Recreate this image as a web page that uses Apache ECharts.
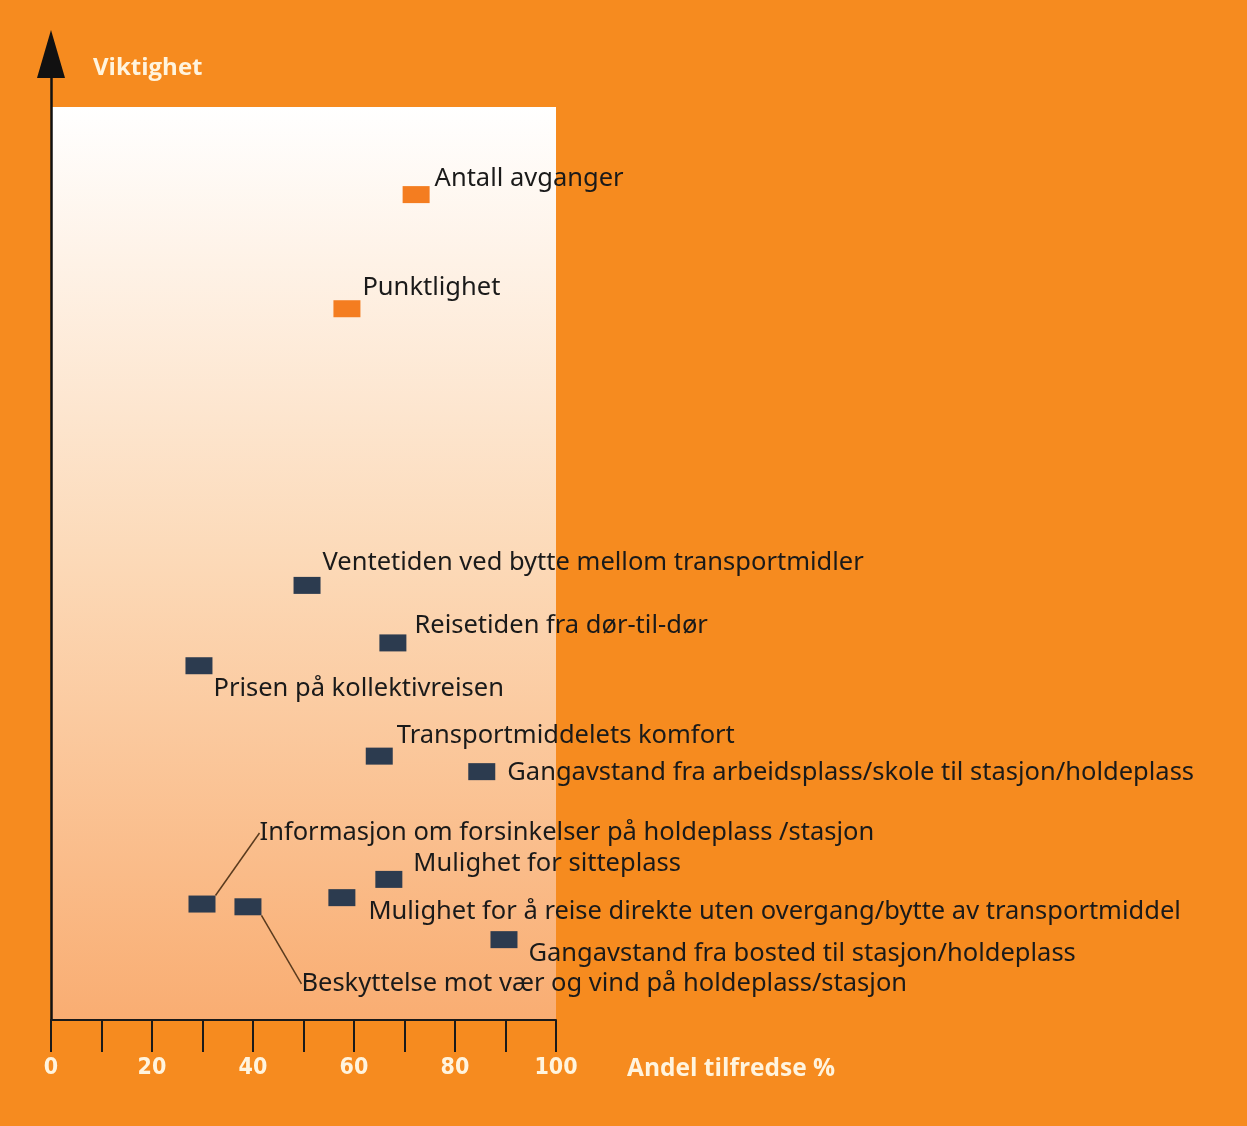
<!DOCTYPE html>
<html><head><meta charset="utf-8">
<script src="https://cdn.jsdelivr.net/npm/echarts@6/dist/echarts.min.js"></script>
<style>html,body{margin:0;padding:0;background:#F68B1F;}#c{width:1247px;height:1126px;}</style>
</head><body><div id="c"></div>
<script>
// Data
const labels = [
  'Antall avganger',
  'Punktlighet',
  'Ventetiden ved bytte mellom transportmidler',
  'Reisetiden fra dør-til-dør',
  'Prisen på kollektivreisen',
  'Transportmiddelets komfort',
  'Gangavstand fra arbeidsplass/skole til stasjon/holdeplass',
  'Informasjon om forsinkelser på holdeplass /stasjon',
  'Beskyttelse mot vær og vind på holdeplass/stasjon',
  'Mulighet for å reise direkte uten overgang/bytte av transportmiddel',
  'Mulighet for sitteplass',
  'Gangavstand fra bosted til stasjon/holdeplass'
];
const satisfied = [72.3, 58.6, 50.7, 67.7, 29.3, 65.0, 85.3, 29.9, 39.0, 57.6, 66.9, 89.7];
const importance = [90.4, 77.9, 47.6, 41.3, 38.8, 28.9, 27.2, 12.7, 12.4, 13.4, 15.4, 8.8];
const highlighted = [true, true, false, false, false, false, false, false, false, false, false, false];
const xTicks = [0, 20, 40, 60, 80, 100];
const xTitle = 'Andel tilfredse %';
const yTitle = 'Viktighet';

// Label placement (pixels, style only)
const labelShift = [[5,-16],[2,-21],[2,-23],[8,-17],[1,23],[4,-20],[12,1],[44,-71],[40,77],[13,14],[11,-16],[11,14]];
const withLeader = [7, 8];

const chart = echarts.init(document.getElementById('c'));
const data = labels.map((n, i) => ({
  name: n,
  value: [satisfied[i], importance[i]],
  itemStyle: { color: highlighted[i] ? '#F47D20' : '#2C3B4F', opacity: 1 },
  labelLine: { show: withLeader.includes(i), lineStyle: { color: '#5a3b1e', width: 1.5, opacity: 1 } }
}));

chart.setOption({
  backgroundColor: '#F68B1F',
  animation: false,
  grid: { left: 51, top: 54, width: 505, height: 966 },
  xAxis: {
    type: 'value', min: 0, max: 100, interval: 10, z: 10,
    axisLine: { lineStyle: { color: '#1a1a1a', width: 2 } },
    axisTick: { show: true, length: 32, lineStyle: { color: '#1a1a1a', width: 2 } },
    splitLine: { show: false },
    axisLabel: {
      margin: 37, color: '#FFF4DE', fontSize: 23, fontWeight: 'bold', fontFamily: 'DejaVu Sans Condensed',
      formatter: v => xTicks.includes(v) ? String(v) : ''
    }
  },
  yAxis: {
    type: 'value', min: 0, max: 105.8, z: 10,
    axisLine: { show: true, symbol: ['none', 'triangle'], symbolSize: [28, 48], lineStyle: { color: '#111', width: 2.5 } },
    axisTick: { show: false }, axisLabel: { show: false }, splitLine: { show: false }
  },
  title: [{
    text: yTitle, left: 88, top: 51,
    textStyle: { color: '#FFF4DE', fontSize: 24, fontWeight: 'bold', fontFamily: 'Open Sans' }
  }, {
    text: xTitle, left: 622, top: 1052,
    textStyle: { color: '#FFF4DE', fontSize: 24.5, fontWeight: 'bold', fontFamily: 'Open Sans' }
  }],
  series: [{
    type: 'scatter',
    symbol: 'rect', symbolSize: [27, 17],
    data: data,
    label: {
      show: true, position: 'right', distance: 0,
      formatter: p => p.name,
      color: '#1a1a1a', fontSize: 25.5, fontFamily: 'Noto Sans', opacity: 1
    },
    labelLayout: p => ({ dx: labelShift[p.dataIndex][0], dy: labelShift[p.dataIndex][1] }),
    markArea: {
      silent: true,
      itemStyle: {
        opacity: 1,
        color: new echarts.graphic.LinearGradient(0, 0, 0, 1, [
          { offset: 0, color: '#FFFFFF' },
          { offset: 0.5, color: '#FCD9B7' },
          { offset: 1, color: '#F9AD72' }
        ])
      },
      data: [[{ coord: [0, 0] }, { coord: [100, 100] }]]
    }
  }]
});
</script></body></html>
